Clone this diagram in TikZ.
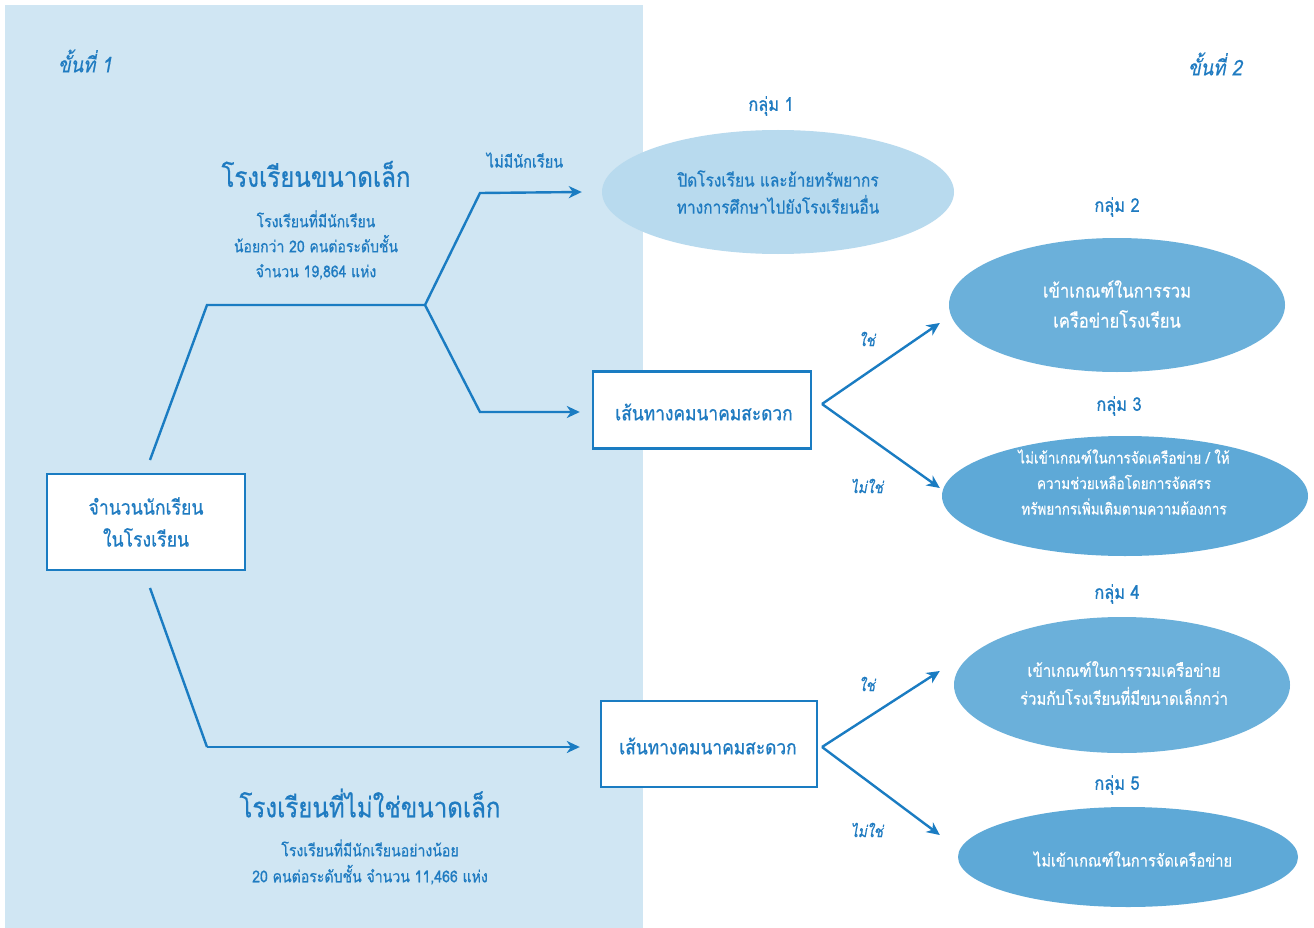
\documentclass[tikz,border=0pt]{standalone}
\usepackage{fontspec}
\setmainfont[Script=Thai, FakeStretch=0.86, FakeBold=0.6]{Loma}
\usetikzlibrary{arrows.meta,shapes.geometric}
\definecolor{panel}{HTML}{D0E6F3}
\definecolor{ink}{HTML}{1F7BC1}
\definecolor{lineblue}{HTML}{1A7CC2}
\definecolor{eA}{HTML}{B8DAEE}
\definecolor{eB}{HTML}{6BB0DA}
\definecolor{eC}{HTML}{5EA9D7}
\tikzset{
  conn/.style={draw=lineblue, line width=2.4pt, line join=miter},
  arr/.style={conn, -{Stealth[length=13pt,width=12pt,inset=4pt]}},
  box/.style={draw=lineblue, line width=2.4pt, fill=white, inner sep=0pt},
  blob/.style={ellipse, inner sep=0pt},
  txt/.style={text=ink, align=center, inner sep=0pt},
  wtxt/.style={text=white, align=center, inner sep=0pt},
  stage/.style={text=ink, inner sep=0pt, font=\fontsize{21.5}{24}\selectfont\itshape},
  group/.style={text=ink, inner sep=0pt, font=\fontsize{19}{22}\selectfont},
  yn/.style={text=ink, inner sep=0pt, font=\fontsize{16}{18}\selectfont\itshape},
}
\begin{document}
\begin{tikzpicture}[x=1pt,y=-1pt]
\useasboundingbox (0,0) rectangle (1314,928);
\fill[white] (0,0) rectangle (1314,928);
\fill[panel] (5,5) rectangle (643,928);

% stage labels
\node[stage] (st1) at (85,61) {ขั้นที่ 1};
\node[stage] (st2) at (1215,64) {ขั้นที่ 2};

% root box
\node[box, minimum width=198, minimum height=96] (root) at (146,522) {};
\node[txt, font=\fontsize{20.5}{32}\selectfont] (roott) at (146,522) {จำนวนนักเรียน\\ในโรงเรียน};

% route boxes
\node[box, minimum width=218, minimum height=77] (r1) at (702,410) {};
\node[txt, font=\fontsize{20.2}{22}\selectfont] (r1t) at (704,412) {เส้นทางคมนาคมสะดวก};
\node[box, minimum width=216, minimum height=86] (r2) at (709,744) {};
\node[txt, font=\fontsize{20.2}{22}\selectfont] (r2t) at (708,746) {เส้นทางคมนาคมสะดวก};

% ellipses
\node[blob, fill=eA, minimum width=352, minimum height=124] (g1) at (778,192) {};
\node[blob, fill=eB, minimum width=336, minimum height=134] (g2) at (1117,305) {};
\node[blob, fill=eC, minimum width=366, minimum height=120] (g3) at (1125,496) {};
\node[blob, fill=eB, minimum width=336, minimum height=136] (g4) at (1122,685) {};
\node[blob, fill=eC, minimum width=340, minimum height=100] (g5) at (1128,857) {};

\node[txt, font=\fontsize{18}{27}\selectfont] (g1t) at (778,192) {ปิดโรงเรียน และย้ายทรัพยากร\\ทางการศึกษาไปยังโรงเรียนอื่น};
\node[wtxt, font=\fontsize{19.3}{30}\selectfont] (g2t) at (1117,304) {เข้าเกณฑ์ในการรวม\\เครือข่ายโรงเรียน};
\node[wtxt, font=\fontsize{15.7}{25.5}\selectfont] (g3t) at (1124,482) {ไม่เข้าเกณฑ์ในการจัดเครือข่าย / ให้\\ความช่วยเหลือโดยการจัดสรร\\ทรัพยากรเพิ่มเติมตามความต้องการ};
\node[wtxt, font=\fontsize{17.4}{28}\selectfont] (g4t) at (1124,683) {เข้าเกณฑ์ในการรวมเครือข่าย\\ร่วมกับโรงเรียนที่มีขนาดเล็กกว่า};
\node[wtxt, font=\fontsize{17}{20}\selectfont] (g5t) at (1133,859) {ไม่เข้าเกณฑ์ในการจัดเครือข่าย};

% group labels
\node[group] (l1) at (771,106) {กลุ่ม 1};
\node[group] (l2) at (1117,207) {กลุ่ม 2};
\node[group] (l3) at (1119,406) {กลุ่ม 3};
\node[group] (l4) at (1117,594) {กลุ่ม 4};
\node[group] (l5) at (1117,785) {กลุ่ม 5};

% left texts
\node[txt, font=\fontsize{28}{32}\selectfont] (small) at (316,174) {โรงเรียนขนาดเล็ก};
\node[txt, font=\fontsize{16.3}{25}\selectfont] (smallt) at (316,245) {โรงเรียนที่มีนักเรียน\\น้อยกว่า 20 คนต่อระดับชั้น\\จำนวน 19,864 แห่ง};
\node[txt, font=\fontsize{28}{32}\selectfont] (big) at (370,803) {โรงเรียนที่ไม่ใช่ขนาดเล็ก};
\node[txt, font=\fontsize{16.4}{26}\selectfont] (bigt) at (370,862) {โรงเรียนที่มีนักเรียนอย่างน้อย\\20 คนต่อระดับชั้น จำนวน 11,466 แห่ง};
\node[txt, font=\fontsize{16.9}{19}\selectfont] (none) at (525,160) {ไม่มีนักเรียน};

% yes / no labels
\node[yn] (y1) at (867,339) {ใช่};
\node[yn] (n1) at (867,486) {ไม่ใช่};
\node[yn] (y2) at (867,684) {ใช่};
\node[yn] (n2) at (867,830) {ไม่ใช่};

% routing coordinates
\coordinate (a0) at (150,460);
\coordinate (a1) at (207,305);
\coordinate (fork) at (425,305);
\coordinate (a2) at (480,193);
\coordinate (a3) at (480,412);
\coordinate (b0) at (150,588);
\coordinate (b1) at (207,747);
\coordinate (c1) at (822,404);
\coordinate (c2) at (822,747);

% connectors
\draw[conn] (a0) -- (a1) -- (fork);
\draw[arr] (fork) -- (a2) -- ([xshift=-20pt]g1.west);
\draw[arr] (fork) -- (a3) -- ([xshift=-12pt]r1.west |- a3);
\draw[conn] (b0) -- (b1);
\draw[arr] (b1) -- ([xshift=-20pt]r2.west |- b1);
\draw[arr] (c1) -- ([xshift=-9pt]g2.west |- 0,323);
\draw[arr] (c1) -- ([xshift=-2pt]g3.west |- 0,488);
\draw[arr] (c2) -- ([xshift=-14pt]g4.west |- 0,671);
\draw[arr] (c2) -- ([xshift=-18pt]g5.west |- 0,835);
\end{tikzpicture}
\end{document}
